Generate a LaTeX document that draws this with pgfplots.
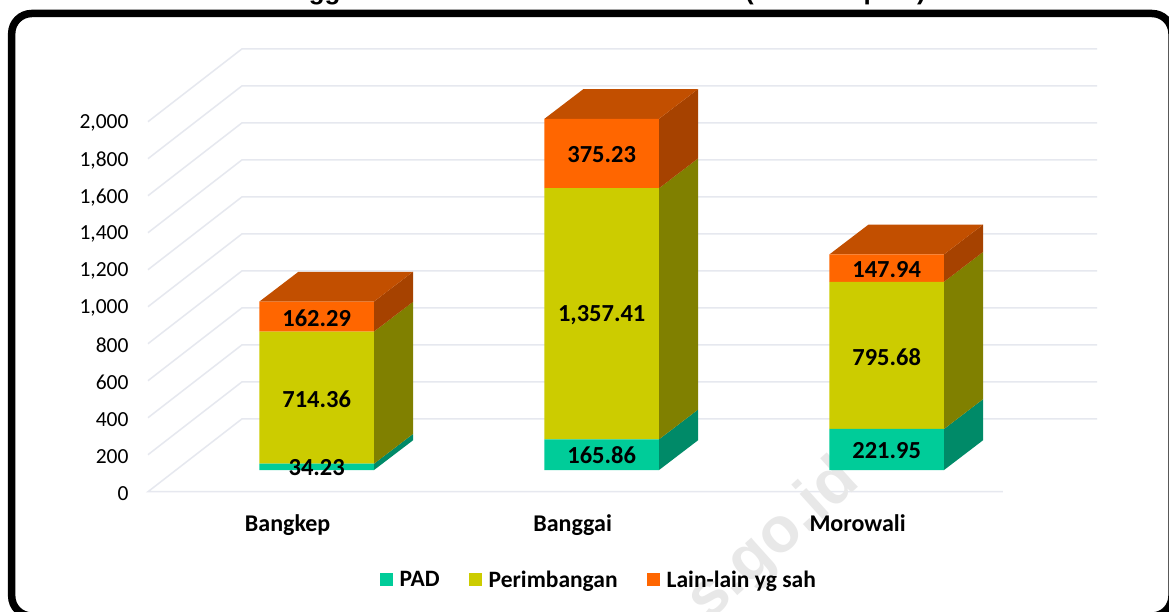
\documentclass[border=0pt]{standalone}
\usepackage{fontspec}
\setmainfont{Carlito}
\newfontfamily\titlefont{Liberation Sans}
\usepackage{pgfplots}
\pgfplotsset{compat=1.18}

\definecolor{pad}{HTML}{00CC99}
\definecolor{padside}{HTML}{008A68}
\definecolor{prm}{HTML}{CCCC00}
\definecolor{prmside}{HTML}{808000}
\definecolor{lain}{HTML}{FF6600}
\definecolor{lainside}{HTML}{A64200}
\definecolor{laintop}{HTML}{C24F00}
\definecolor{gridc}{HTML}{E6E8EF}

\pgfplotsset{
  base/.style={
    scale only axis, width=949pt, height=442.9pt,
    anchor=south west, at={(148pt,-491.7pt)},
    xmin=-0.5, xmax=2.83, ymin=0, ymax=2394,
    clip=false,
  },
  face/.style={fill=#1, draw=none, forget plot},
}

\begin{document}
\begin{tikzpicture}
\path[use as bounding box] (0,0) rectangle (1169pt,-612pt);
\clip (0,0) rectangle (1169pt,-612pt);
\fill[white] (0,0) rectangle (1169pt,-612pt);

% title is cut off by the top edge in the reference
\node[anchor=base west, inner sep=0pt, font=\fontsize{26}{30}\selectfont\titlefont\bfseries] at (274pt,0pt)
  {\makebox[471pt][l]{Anggaran Daerah Induk}(Miliar Rupiah)};

\draw[line width=7.5pt, rounded corners=20pt] (11.7pt,-13.5pt) rectangle (1172pt,-616pt);

% walls, floor and the 3D sides of the bars
\begin{axis}[base, hide axis]
\addplot[gridc, line width=1.5pt, unbounded coords=jump] coordinates {
  (2.5,0)(-0.5,0)(-0.17,394)(2.83,394) (nan,nan)
  (-0.5,200)(-0.17,594)(2.83,594) (nan,nan)
  (-0.5,400)(-0.17,794)(2.83,794) (nan,nan)
  (-0.5,600)(-0.17,994)(2.83,994) (nan,nan)
  (-0.5,800)(-0.17,1194)(2.83,1194) (nan,nan)
  (-0.5,1000)(-0.17,1394)(2.83,1394) (nan,nan)
  (-0.5,1200)(-0.17,1594)(2.83,1594) (nan,nan)
  (-0.5,1400)(-0.17,1794)(2.83,1794) (nan,nan)
  (-0.5,1600)(-0.17,1994)(2.83,1994) (nan,nan)
  (-0.5,1800)(-0.17,2194)(2.83,2194) (nan,nan)
  (-0.5,2000)(-0.17,2394)(2.83,2394)
};
% Bangkep
\addplot[face=padside] coordinates {(0.293,117)(0.43,278)(0.43,312.23)(0.293,151.23)} --cycle;
\addplot[face=prmside] coordinates {(0.293,151.23)(0.43,312.23)(0.43,1026.59)(0.293,865.59)} --cycle;
\addplot[face=lainside] coordinates {(0.293,865.59)(0.43,1026.59)(0.43,1188.88)(0.293,1027.88)} --cycle;
\addplot[face=laintop] coordinates {(-0.109,1027.88)(0.293,1027.88)(0.43,1188.88)(0.028,1188.88)} --cycle;
% Banggai
\addplot[face=padside] coordinates {(1.293,117)(1.43,278)(1.43,443.86)(1.293,282.86)} --cycle;
\addplot[face=prmside] coordinates {(1.293,282.86)(1.43,443.86)(1.43,1801.27)(1.293,1640.27)} --cycle;
\addplot[face=lainside] coordinates {(1.293,1640.27)(1.43,1801.27)(1.43,2176.5)(1.293,2015.5)} --cycle;
\addplot[face=laintop] coordinates {(0.891,2015.5)(1.293,2015.5)(1.43,2176.5)(1.028,2176.5)} --cycle;
% Morowali
\addplot[face=padside] coordinates {(2.293,117)(2.43,278)(2.43,499.95)(2.293,338.95)} --cycle;
\addplot[face=prmside] coordinates {(2.293,338.95)(2.43,499.95)(2.43,1295.63)(2.293,1134.63)} --cycle;
\addplot[face=lainside] coordinates {(2.293,1134.63)(2.43,1295.63)(2.43,1443.57)(2.293,1282.57)} --cycle;
\addplot[face=laintop] coordinates {(1.891,1282.57)(2.293,1282.57)(2.43,1443.57)(2.028,1443.57)} --cycle;
\end{axis}

% watermark
\node[rotate=42, text=black!9, font=\fontsize{64}{70}\selectfont\titlefont\bfseries] at (774pt,-541pt) {s.go.id};

% front faces, ticks and legend
\begin{axis}[base,
  ybar stacked, bar width=0.402,
  axis line style={draw=none}, tick style={draw=none},
  xtick={-0.01,0.99,1.99}, xticklabels={Bangkep,Banggai,Morowali},
  xticklabel style={font=\fontsize{24}{28}\selectfont\bfseries, yshift=-19pt},
  ytick={0,200,400,600,800,1000,1200,1400,1600,1800,2000},
  yticklabel style={font=\fontsize{21.5}{26}\selectfont, xshift=-16pt, yshift=-1.5pt},
  /pgf/number format/assume math mode=true,
  /pgf/number format/1000 sep={,},
  legend style={at={(0.2445,-0.1993)}, anchor=west, draw=none, fill=none,
    inner sep=0pt, font=\fontsize{23.5}{28}\selectfont\bfseries,
    /tikz/every even column/.append style={column sep=27.5pt},
    /tikz/every odd column/.append style={column sep=4.5pt}},
  legend columns=-1,
  legend image code/.code={\fill[#1] (0pt,-6.5pt) rectangle (13pt,6.5pt);},
]
% gap between the floor edge and the front of the bars
\addplot[draw=none, fill=none, forget plot] coordinates {(0.092,117)(1.092,117)(2.092,117)};
\addplot[fill=pad, draw=none] coordinates {(0.092,34.23)(1.092,165.86)(2.092,221.95)};
\addplot[fill=prm, draw=none] coordinates {(0.092,714.36)(1.092,1357.41)(2.092,795.68)};
\addplot[fill=lain, draw=none] coordinates {(0.092,162.29)(1.092,375.23)(2.092,147.94)};
\legend{PAD,Perimbangan,Lain-lain yg sah}
\end{axis}

% value labels, in their own axis so they sit above the bars
\begin{axis}[base, hide axis]
\addplot[draw=none, point meta=explicit symbolic, nodes near coords,
  every node near coord/.style={anchor=center, text=black,
    font=\fontsize{24.5}{28}\selectfont\bfseries}]
  table[meta=l] {
  x y l
  0.092 128 34.23
  0.092 501 714.36
  0.092 939 162.29
  1.092 196 165.86
  1.092 955 1,357.41
  1.092 1820 375.23
  2.092 224 221.95
  2.092 730 795.68
  2.092 1203 147.94
};
\end{axis}
\end{tikzpicture}
\end{document}
